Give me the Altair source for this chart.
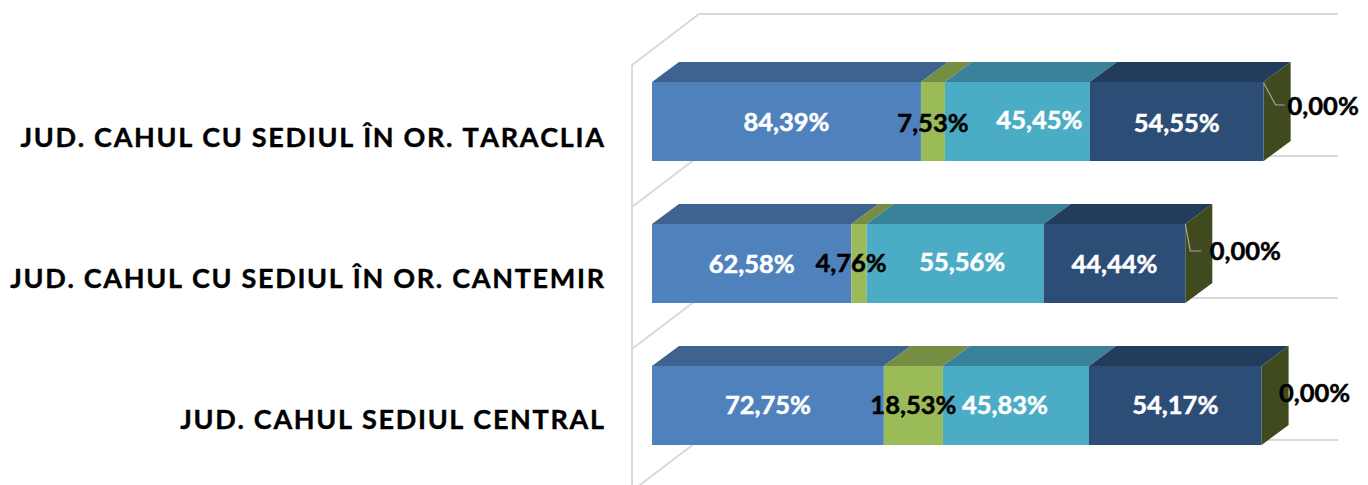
import altair as alt
import pandas as pd

# Rows are listed bottom to top
ROWS = ["JUD. CAHUL SEDIUL CENTRAL", "JUD. CAHUL CU SEDIUL ÎN OR. CANTEMIR", "JUD. CAHUL CU SEDIUL ÎN OR. TARACLIA"]
S1 = [72.75, 62.58, 84.39]
S2 = [18.53, 4.76, 7.53]
S3 = [45.83, 55.56, 45.45]
S4 = [54.17, 44.44, 54.55]
S5 = [0.00, 0.00, 0.00]
SERIES = [S1, S2, S3, S4, S5]
FRONT = ["#4f81bd", "#9bbb59", "#4bacc6", "#2c4d75", "#3f4a1f"]
TOP = ["#3e6390", "#758e43", "#3a8299", "#233c5b", "#3f4a1f"]
TEXT = ["white", "black", "white", "white", "black"]
# label nudges from the centre of each segment, in pixels (series by row)
NUDGE_X = [[0, 0, 0], [0, -8, 0], [-11, 7, 22], [0, 0, 0], [53, 60, 59.5]]
NUDGE_Y = [[0, 1, 1], [0, 0, 2], [0, -1, -1], [0, 1, 2], [-12, -12, -15]]
LEADERS = {2: [(0, 1), (12, 23), (21, 23)], 1: [(0, 0), (5, 27), (16, 27)]}
LABEL_DY = [15.5, 16.5, 17.5]

W, H = 1352, 477
PX_X, PX_Y = 3.187, 142.0     # pixels per value unit, per row
X0, Y0 = 644.0, 397.5         # plot pixel of value 0 and of row 0
ux = lambda p: p / PX_X
uy = lambda p: p / PX_Y
HALF = uy(39.5)
DX, DY = ux(27), uy(20)
WX, WY = ux(67), uy(51)
WALL_L = ux(-20)
WALL_R = ux(686)
BASE = uy(85.5)

xs = alt.Scale(domain=[-X0 / PX_X, (W - X0) / PX_X], range=[0, W], nice=False, zero=False)
ys = alt.Scale(domain=[(Y0 - H) / PX_Y, Y0 / PX_Y], range=[H, 0], nice=False, zero=False)
X = lambda f: alt.X(f, type="quantitative", scale=xs, axis=None)
Y = lambda f: alt.Y(f, type="quantitative", scale=ys, axis=None)

front, top, side, labels, leaders, walls = [], [], [], [], [], []
for r in range(len(ROWS)):
    pos = 0.0
    for s, vals in enumerate(SERIES):
        a, b = pos, pos + vals[r]
        pos = b
        k = f"{r}-{s}"
        if vals[r] > 0:
            front.append(dict(a=a, b=b, y=r - HALF, y2=r + HALF, c=FRONT[s]))
            top.append(dict(k=k, a=a, b=b, y=r + HALF, c=TOP[s]))
            top.append(dict(k=k, a=a + DX, b=b + DX, y=r + HALF + DY, c=TOP[s]))
        labels.append(dict(x=(a + b) / 2 + ux(NUDGE_X[s][r]), y=r - uy(NUDGE_Y[s][r]),
                           t=f"{vals[r]:.2f}".replace(".", ",") + "%", c=TEXT[s]))
    side.append(dict(k=r, x=pos, y=r - HALF, y2=r + HALF))
    side.append(dict(k=r, x=pos + DX, y=r - HALF + DY, y2=r + HALF + DY))
    if r in LEADERS:
        for i, (dx, dy) in enumerate(LEADERS[r]):
            leaders.append(dict(k=r, i=i, x=pos + ux(dx), y=r + HALF - uy(dy)))

n = 0
for r in range(len(ROWS) + 1):
    b = r - BASE
    walls.append(dict(k=n, i=0, x=WALL_L, y=b))
    walls.append(dict(k=n, i=1, x=WALL_L + WX, y=b + WY))
    walls.append(dict(k=n, i=2, x=WALL_R, y=b + WY))
    n += 1
walls.append(dict(k=n, i=0, x=WALL_L, y=len(ROWS) - BASE))
walls.append(dict(k=n, i=1, x=WALL_L, y=-BASE))

row_labels = [dict(x=ux(604 - 8 - X0), y=r - uy(LABEL_DY[r]), t="\u200a".join(ROWS[r])) for r in range(len(ROWS))]

D = lambda rows: alt.Data(values=rows)

wall_l = alt.Chart(D(walls)).mark_line(color="#d9d9d9", strokeWidth=2, clip=True).encode(
    x=X("x"), y=Y("y"), detail="k:N", order="i:Q")
top_l = alt.Chart(D(top)).mark_area(orient="horizontal", opacity=1).encode(
    x=X("a"), x2="b:Q", y=Y("y"), detail="k:N", color=alt.Color("c:N", scale=None))
side_l = alt.Chart(D(side)).mark_area(color=FRONT[4], opacity=1).encode(
    x=X("x"), y=Y("y"), y2="y2:Q", detail="k:N")
front_l = alt.Chart(D(front)).mark_rect().encode(
    x=X("a"), x2="b:Q", y=Y("y"), y2="y2:Q", color=alt.Color("c:N", scale=None))
leader_l = alt.Chart(D(leaders)).mark_line(color="#a6a6a6", strokeWidth=1.2).encode(
    x=X("x"), y=Y("y"), detail="k:N", order="i:Q")
text_l = alt.Chart(D(labels)).mark_text(font="Lato", fontWeight="bold", fontSize=25.5, baseline="middle", align="center", strokeWidth=0.5).encode(
    x=X("x"), y=Y("y"), text="t:N", color=alt.Color("c:N", scale=None), stroke=alt.Stroke("c:N", scale=None))
row_l = alt.Chart(D(row_labels)).mark_text(font="Lato", fontWeight="bold", fontSize=27, baseline="middle", align="right", color="black", stroke="black", strokeWidth=0.4).encode(
    x=X("x"), y=Y("y"), text="t:N")

chart = alt.layer(wall_l, top_l, side_l, front_l, leader_l, text_l, row_l).properties(
    width=W, height=H, padding=0, autosize=alt.AutoSizeParams(type="none"), background="white"
).configure_view(stroke=None)

chart.save("out.html", embed_options={"renderer": "svg", "actions": False})
